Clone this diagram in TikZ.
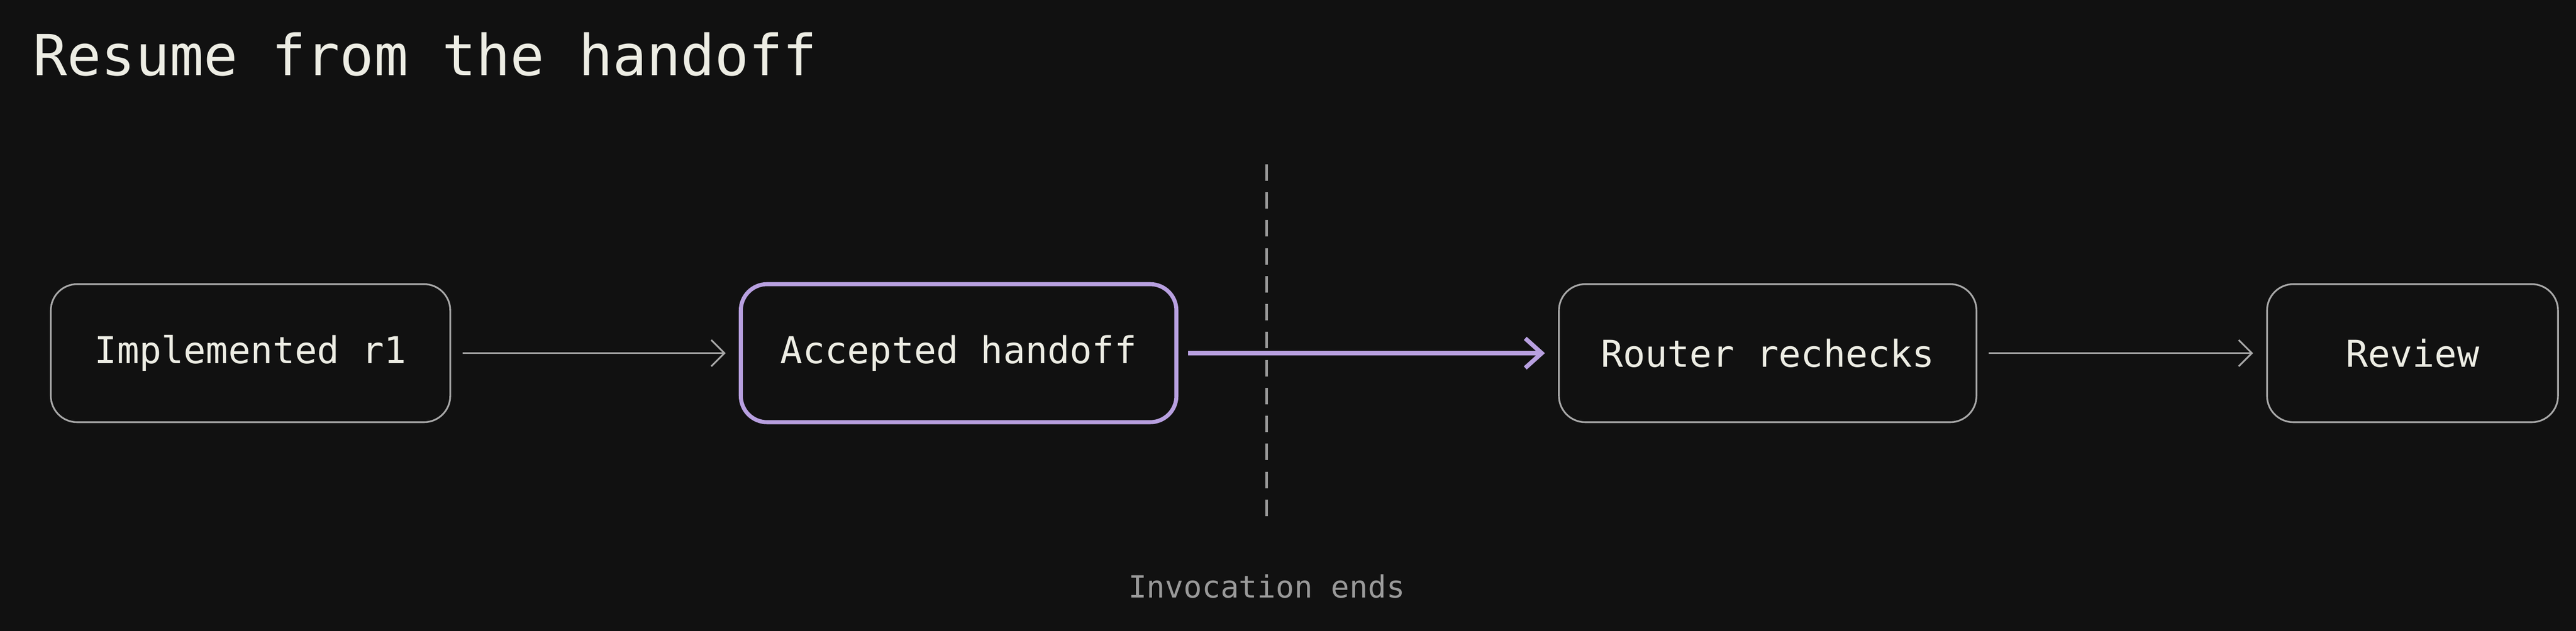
\documentclass[tikz,border=0pt]{standalone}
\usepackage{fontspec}
\setmonofont{DejaVu Sans Mono}
\usetikzlibrary{arrows.meta}
\definecolor{bg}{HTML}{111111}
\definecolor{ink}{HTML}{EDEDE4}
\definecolor{edge}{HTML}{A8A8A8}
\definecolor{accent}{HTML}{B8A0E0}
\definecolor{muted}{HTML}{9A9A9A}

\begin{document}
\begin{tikzpicture}[x=0.01cm, y=-0.01cm, line width=0.3pt,
    stage/.style = {draw=edge, rounded corners=0.16cm, minimum height=0.84cm, text=ink, font=\ttfamily\fontsize{6.4}{7}\selectfont},
    flow/.style = {draw=edge, -{Straight Barb[length=0.8mm, width=1.6mm]}},
    hot/.style = {draw=accent, line width=0.75pt, -{Straight Barb[length=1mm, width=1.8mm]}}]
    \fill[bg] (0,0) rectangle (1568,384);
    \useasboundingbox (0,0) rectangle (1568,384);
    \node[text=ink, anchor=west, font=\ttfamily\fontsize{9.8}{11}\selectfont] (title) at (8,33) {Resume from the handoff};
    \node[stage, minimum width=2.43cm] (impl) at (152.5,215) {Implemented r1};
    \node[stage, draw=accent, line width=0.7pt, minimum width=2.65cm] (acc) at (583.5,215) {Accepted handoff};
    \node[stage, minimum width=2.54cm] (router) at (1076,215) {Router rechecks};
    \node[stage, minimum width=1.77cm] (review) at (1468.5,215) {Review};
    \coordinate (cuttop) at (771,100);
    \coordinate (cutbot) at (771,318);
    \draw[muted, dash pattern=on 0.1cm off 0.07cm, line width=0.4pt] (cuttop) -- (cutbot);
    \node[text=muted, font=\ttfamily\fontsize{5.3}{6}\selectfont] (ends) at (771,357) {Invocation ends};
    \draw[flow] ([xshift=0.07cm]impl.east) -- ([xshift=-0.08cm]acc.west);
    \draw[hot] ([xshift=0.06cm]acc.east) -- ([xshift=-0.08cm]router.west);
    \draw[flow] ([xshift=0.07cm]router.east) -- ([xshift=-0.08cm]review.west);
\end{tikzpicture}
\end{document}
